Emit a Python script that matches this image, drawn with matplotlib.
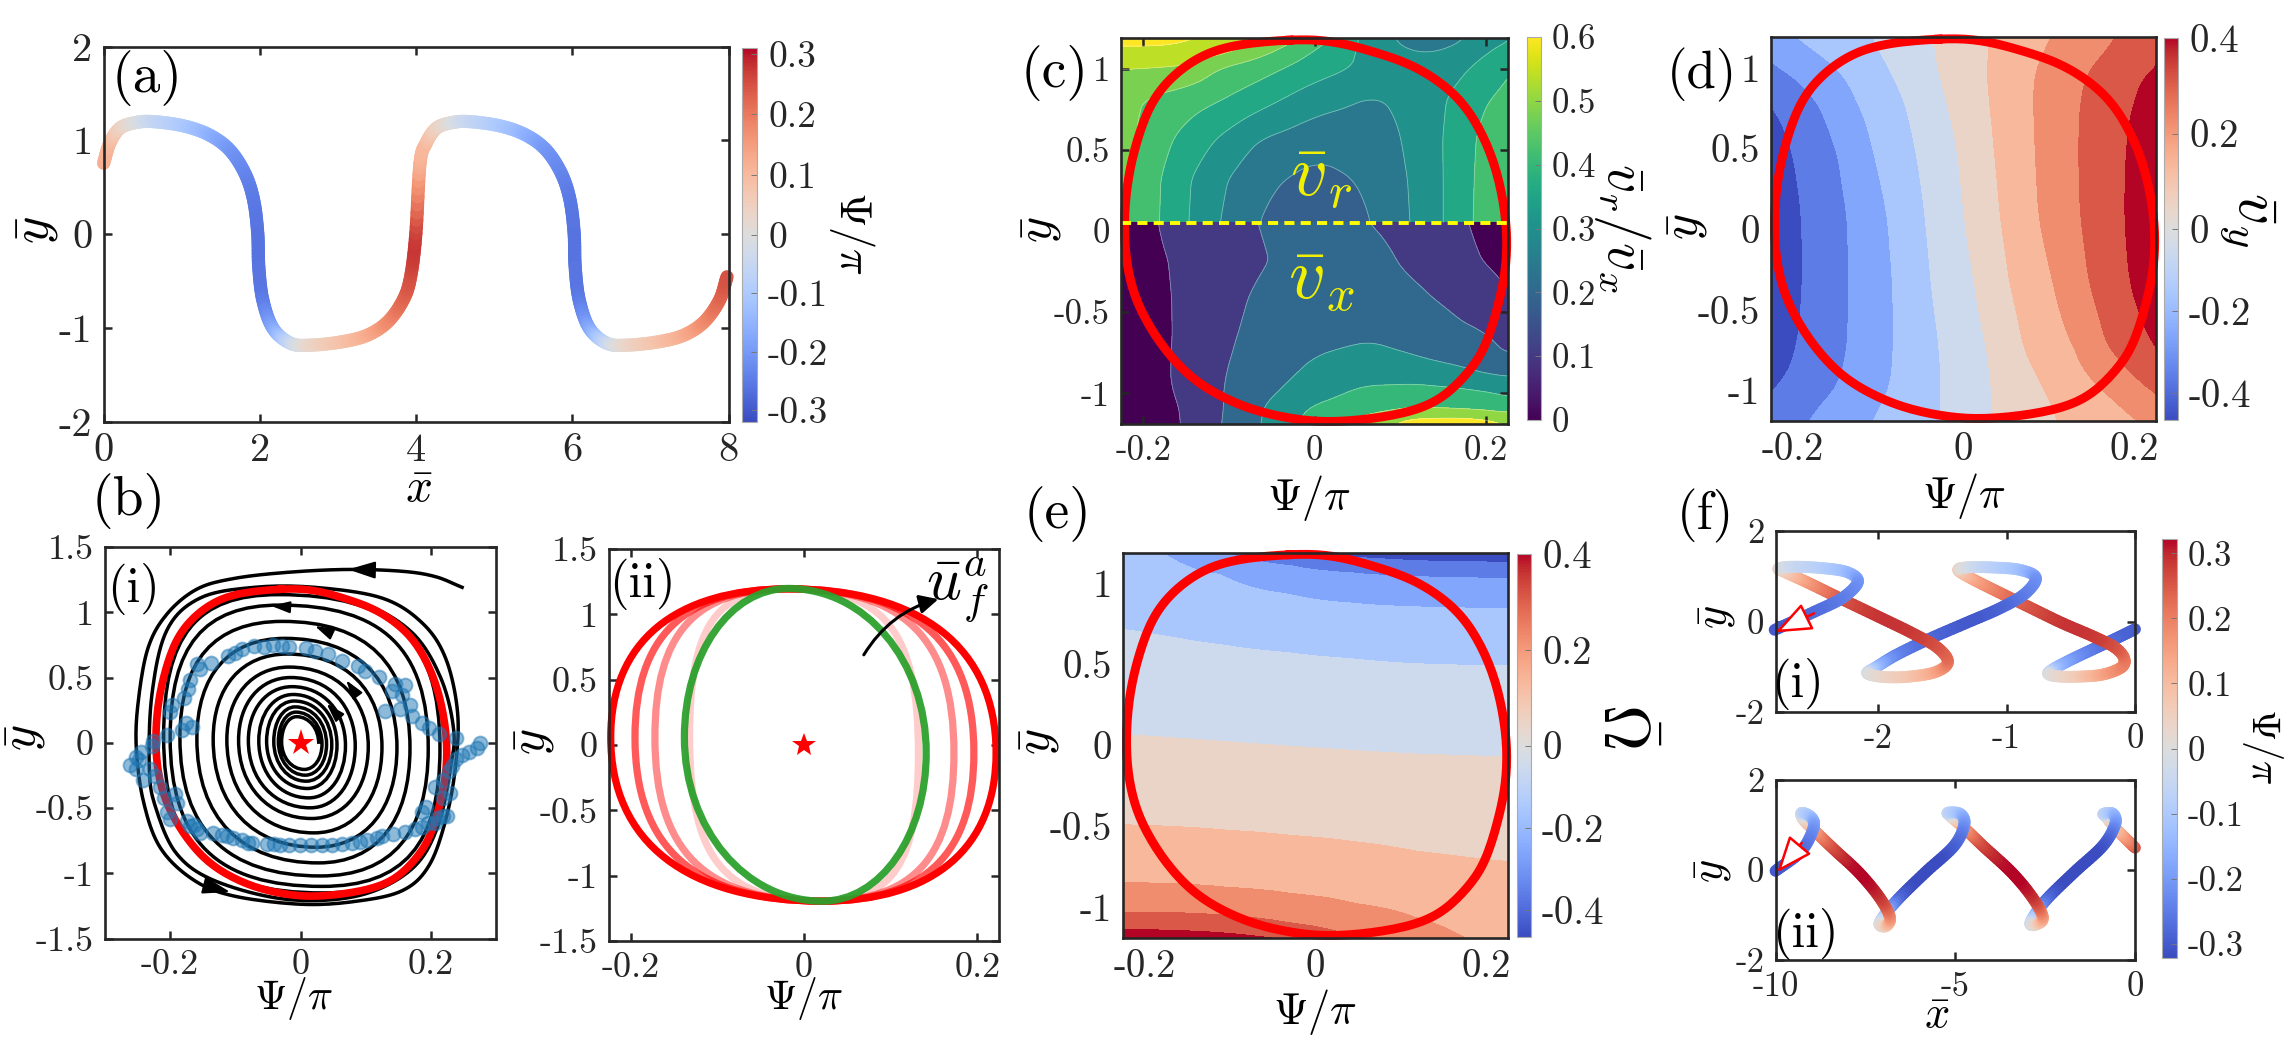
import numpy as np
import matplotlib
matplotlib.use("Agg")
import matplotlib.pyplot as plt
from matplotlib.cm import ScalarMappable
from matplotlib.collections import LineCollection
from matplotlib.colors import Normalize, TwoSlopeNorm
from matplotlib.patches import PathPatch
from matplotlib.path import Path

plt.rcParams["font.family"] = ["cmr10", "DejaVu Serif"]
plt.rcParams["mathtext.fontset"] = "cm"
plt.rcParams["axes.unicode_minus"] = False
plt.rcParams["axes.formatter.use_mathtext"] = True

W, H = 2288, 1038
DARK = "#262626"

# ── (a) wavy path, one wavelength, repeated once ──────────────────────────────
a_x = [0, .078, .209, .405, .634, 1.025, 1.352, 1.613, 1.809, 1.920, 1.973,
       1.986, 2.038, 2.169, 2.397, 2.658, 3.050, 3.377, 3.638, 3.834, 3.93, 3.997]
a_y = [.756, .970, 1.130, 1.190, 1.201, 1.155, 1.059, .899, .649, .365, .009,
       -.347, -.703, -1.005, -1.165, -1.183, -1.148, -1.077, -.934, -.703, -.454, .009]
a_psi = [.12, .10, .05, 0, -.05, -.10, -.15, -.20, -.23, -.25, -.26,
         -.26, -.25, -.18, -.05, .03, .08, .12, .17, .22, .25, .27]
a_wavelength = 4.05

# ── limit cycle (red curve in b, c, d, e) ─────────────────────────────────────
cycle_psi = [-.028, .020, .068, .117, .160, .189, .211, .223, .224, .216, .199, .175, .141,
             .093, .025, -.028, -.082, -.135, -.174, -.203, -.217, -.222, -.219, -.207,
             -.186, -.149, -.101]
cycle_y = [1.178, 1.168, 1.106, 1.013, .859, .664, .397, .088, -.179, -.425, -.713, -.898,
           -1.052, -1.135, -1.176, -1.155, -1.083, -.939, -.734, -.487, -.261, -.014,
           .273, .561, .828, 1.024, 1.137]

# ── (b)(i) spiral extents per turn, blue samples, outer trajectory ────────────
turn_right = [.028, .033, .040, .048, .056, .069, .084, .104, .125, .148, .168, .196, .214]
turn_top = [.20, .235, .275, .32, .37, .43, .50, .58, .68, .80, .93, 1.055, 1.135]
turn_left = [-.029, -.034, -.041, -.052, -.064, -.080, -.095, -.113, -.134, -.159, -.185,
             -.200, -.210]
turn_bottom = [-.204, -.248, -.294, -.350, -.422, -.498, -.58, -.69, -.80, -.92, -1.02, -1.10, -1.15]

outer_psi = [.248, .207, .156, .073, -.020, -.102, -.159, -.205, -.234, -.249, -.252, -.241,
             -.215, -.164, -.102, .001, .084, .156, .197, .223, .238, .241, .223, .187, .125,
             .022, -.071, -.154, -.205, -.228, -.232, -.222, -.19, -.13, -.02, .09, .17, .21,
             .23, .235, .215, .17, .09, -.02]
outer_y = [1.191, 1.273, 1.314, 1.328, 1.306, 1.259, 1.177, .986, .726, .316, -.040, -.450,
           -.805, -1.051, -1.174, -1.237, -1.215, -1.133, -.942, -.587, -.176, .234, .644,
           .917, 1.109, 1.191, 1.191, 1.109, .863, .37, -.2, -.5, -.85, -1.06, -1.2, -1.17,
           -.97, -.65, -.2, .1, .5, .85, 1.08, 1.19]

sample_psi = [-.262, -.252, -.244, -.248, -.228, -.226, -.205, -.182, -.166, -.176, -.200, -.197,
              -.179, -.172, -.169, -.154, -.159, -.138, -.112, -.100, -.090, -.071, -.056, -.042,
              -.028, -.018, .009, .022, .042, .063, .089, .099, .120, .145, .161, .140, .156,
              .130, .153, .168, .171, .187, .197, .212, .238, .276, .271, .259, .248, .238,
              .233, .228, .218, .207, .230, .218, .192, .187, .218, .207, .225, .209, .196, .186,
              .176, .161, .142, .125, .117, .102, .092, .079, .063, .048, .033, .016, -.001,
              -.018, -.031, -.041, -.052, -.075, -.080, -.090, -.103, -.113, -.121, -.134, -.154,
              -.159, -.169, -.164, -.174, -.200, -.205, -.190, -.210, -.193, -.215, -.224, -.241,
              -.231, -.252]
sample_y = [-.171, -.108, -.067, -.135, -.026, .015, .056, .097, .124, .152, .234, .288,
            .343, .412, .480, .562, .603, .611, .666, .685, .718, .740, .734, .753,
            .745, .734, .726, .704, .677, .630, .589, .548, .507, .452, .439, .398, .370,
            .247, .261, .288, .206, .152, .111, .070, .037, .001, -.040, -.067, -.094, -.122,
            -.176, -.217, -.286, -.340, -.381, -.422, -.491, -.532, -.559, -.614, -.557, -.575,
            -.613, -.646, -.664, -.684, -.702, -.715, -.728, -.748, -.758, -.771, -.779, -.781,
            -.786, -.786, -.786, -.786, -.784, -.779, -.774, -.766, -.766, -.748, -.728, -.715,
            -.708, -.689, -.689, -.664, -.638, -.628, -.600, -.587, -.532, -.463, -.422, -.395,
            -.340, -.258, -.286, -.204, -.204]

# ── (b)(ii) family of cycles ──────────────────────────────────────────────────
family_right = [.132, .173, .196, .2216]
family_left = [-.132, -.172, -.195, -.223]
family_alpha = [.2, .45, .65, 1]
family_square = [.74, .70, .68, .64]
green_right, green_left, green_top, green_bottom = .141, -.138, 1.198, -1.195

# ── (c) speed fields: v_r above the dashed line, v_x below ────────────────────
vr_psi = [-.226, -.181, -.147, -.111, -.067, .001, .0686, .112, .151, .185, .226]
vr_rows = [.05, .314, .561, .808, 1.013, 1.106, 1.19]
vr = [[.468, .39, .33, .27, .21, .162, .21, .27, .33, .39, .459],
      [.468, .393, .333, .282, .228, .189, .222, .273, .33, .387, .459],
      [.474, .411, .366, .324, .27, .234, .234, .282, .33, .384, .45],
      [.468, .438, .414, .393, .354, .294, .264, .288, .324, .372, .408],
      [.513, .51, .504, .45, .42, .36, .312, .288, .30, .33, .39],
      [.56, .56, .548, .53, .474, .384, .306, .27, .27, .306, .354],
      [.585, .585, .579, .558, .528, .42, .30, .246, .246, .276, .33]]
vx_psi = [-.226, -.181, -.166, -.106, -.067, .001, .064, .117, .165, .195, .226]
vx_rows = [-1.19, -1.094, -1.001, -.898, -.754, -.631, -.425, -.179, .05]
vx = [[0, .01, .03, .155, .24, .40, .50, .60, .62, .60, .55],
      [0, .02, .035, .15, .235, .365, .42, .45, .44, .43, .415],
      [0, .03, .045, .15, .22, .31, .385, .40, .38, .365, .335],
      [0, .03, .053, .147, .20, .28, .31, .31, .29, .265, .25],
      [0, .03, .052, .14, .18, .245, .27, .245, .21, .185, .145],
      [0, .03, .05, .135, .17, .225, .235, .22, .17, .155, .12],
      [0, .03, .052, .125, .16, .20, .19, .17, .13, .10, .06],
      [0, .04, .055, .12, .14, .19, .18, .13, .085, .05, .02],
      [0, .05, .075, .12, .15, .19, .15, .115, .07, .03, 0]]
vr_levels = [.21, .27, .33, .39, .45, .51, .57]
vx_levels = [.05, .15, .25, .35, .45, .55]

# ── (d) v_y band edges: psi position of each edge on each row ─────────────────
vy_rows = [1.19, 1.008, .801, .491, .078, -.336, -.750, -1.018, -1.19]
vy_edges = [[-.308, -.278, -.229, -.201, -.190, -.189, -.196, -.226, -.259],
            [-.254, -.215, -.171, -.148, -.136, -.135, -.136, -.150, -.189],
            [-.213, -.150, -.125, -.106, -.089, -.083, -.082, -.087, -.113],
            [-.111, -.089, -.069, -.056, -.045, -.038, -.028, -.026, -.028],
            [-.035, -.032, -.020, -.007, .001, .013, .028, .034, .035],
            [.032, .027, .030, .036, .043, .054, .071, .098, .113],
            [.108, .084, .082, .084, .088, .105, .130, .169, .225],
            [.186, .147, .137, .135, .137, .147, .169, .220, .271],
            [.271, .225, .200, .191, .189, .195, .225, .261, .300]]

# ── (e) Omega band edges: y position of each edge on each column ──────────────
om_cols = [-.226, -.166, -.107, -.030, .043, .116, .170, .226]
om_edges = [[1.417, 1.395, 1.351, 1.185, 1.161, 1.139, 1.133, 1.130],
            [1.307, 1.263, 1.190, 1.108, 1.064, 1.042, 1.035, 1.031],
            [1.252, 1.181, 1.053, .932, .877, .855, .848, .844],
            [.722, .667, .619, .572, .535, .504, .495, .491],
            [.067, .045, .023, -.006, -.032, -.054, -.063, -.072],
            [-.491, -.502, -.524, -.557, -.594, -.656, -.689, -.722],
            [-.848, -.855, -.877, -.916, -.976, -1.064, -1.190, -1.318],
            [-1.031, -1.033, -1.049, -1.097, -1.181, -1.318, -1.450, -1.560],
            [-1.137, -1.142, -1.157, -1.203, -1.318, -1.450, -1.560, -1.671]]
band_levels = [-.36, -.27, -.18, -.09, 0, .09, .18, .27, .36]

# ── (f) swimming paths ────────────────────────────────────────────────────────
fi_x = [0, -.154, -.315, -.508, -.637, -.675, -.605, -.444, -.251, -.106, -.084, -.154, -.315,
        -.572, -.830, -1.087, -1.280, -1.376, -1.312, -1.119, -.894, -.772, -.862, -1.055,
        -1.312, -1.601, -1.859, -2.019, -2.084, -1.955, -1.762, -1.553, -1.457, -1.537, -1.730,
        -1.987, -2.277, -2.534, -2.727, -2.775, -2.662, -2.437, -2.244, -2.158, -2.277, -2.502, -2.807]
fi_y = [-.170, -.383, -.596, -.856, -1.053, -1.156, -1.211, -1.219, -1.172, -1.014, -.817, -.580,
        -.343, -.028, .327, .682, .959, 1.132, 1.195, 1.195, 1.140, .959, .604, .288, -.028,
        -.383, -.738, -1.014, -1.148, -1.227, -1.219, -1.116, -.895, -.580, -.264, .091, .485,
        .840, 1.093, 1.172, 1.211, 1.180, 1.093, .880, .525, .209, -.185]
fi_psi = [-.3, -.28, -.26, -.2, -.12, -.02, .02, .06, .13, .18, .2, .24, .27, .28, .25, .2, .13,
          .06, -.01, -.07, -.12, -.2, -.24, -.28, -.3, -.28, -.24, -.14, -.02, .03, .07, .13, .2,
          .24, .27, .28, .25, .17, .07, .02, -.04, -.08, -.13, -.2, -.24, -.27, -.3]
fii_x = [0, -.552, -.782, -.874, -.609, -.552, -.897, -1.701, -2.506, -2.908, -2.736, -2.563,
         -2.851, -3.425, -4.23, -4.747, -5.092, -5.207, -4.862, -4.747, -5.034, -5.839, -6.644,
         -7.103, -6.931, -6.816, -7.103, -7.678, -8.368, -8.885, -9.23, -9.264, -9.0, -8.943,
         -9.287, -10]
fii_y = [.495, .931, 1.168, 1.248, 1.248, 1.010, .535, -.059, -.693, -1.168, -1.208, -1.050,
         -.614, -.059, .535, .931, 1.168, 1.271, 1.248, 1.010, .535, -.059, -.693, -1.168,
         -1.248, -1.050, -.614, -.059, .455, .851, 1.129, 1.271, 1.168, .931, .416, -.020]
fii_psi = [.25, .1, .03, -.05, -.12, -.2, -.3, -.33, -.27, -.05, .03, .14, .27, .31, .27, .17,
           .04, -.05, -.12, -.2, -.28, -.33, -.27, -.03, .05, .16, .27, .31, .27, .17, .05,
           -.05, -.12, -.2, -.27, -.3]

fig = plt.figure(figsize=(W / 100, H / 100), dpi=100)


def add_ax(x0, y0, x1, y1):
    return fig.add_axes([x0 / W, 1 - y1 / H, (x1 - x0) / W, (y1 - y0) / H])


def put(x, y, s, size=34, **kw):
    kw.setdefault("color", "black")
    fig.text(x / W, 1 - y / H, s, ha="center", va="center", fontsize=size, **kw)


def dress(ax, xlim, ylim, xticks, xlabels, yticks, ylabels, tick_len=6, size=26):
    ax.set_xlim(xlim)
    ax.set_ylim(ylim)
    ax.set_xticks(xticks)
    ax.set_xticklabels(xlabels)
    ax.set_yticks(yticks)
    ax.set_yticklabels(ylabels)
    ax.tick_params(direction="in", top=True, right=True, length=tick_len, width=1.8,
                   color=DARK, labelcolor=DARK, labelsize=size, pad=8)
    for s in ax.spines.values():
        s.set_linewidth(1.9)
        s.set_color(DARK)
        s.set_zorder(6)


def colorbar(x0, y0, x1, y1, norm, cmap, ticks, labels, size=27):
    cax = add_ax(x0, y0, x1, y1)
    cb = fig.colorbar(ScalarMappable(norm=norm, cmap=cmap), cax=cax)
    cb.set_ticks(ticks)
    cb.set_ticklabels(labels)
    cb.minorticks_off()
    cb.outline.set_edgecolor("#aaaaaa")
    cb.outline.set_linewidth(0.8)
    cax.tick_params(direction="in", length=4, width=0.7, color="#777777", labelcolor=DARK,
                    labelsize=size, pad=8)


def spline(pts, closed=False, n=10):
    # Catmull-Rom through the read points, only to round off the drawn line
    pts = np.asarray(pts, float)
    if closed:
        p = np.vstack([pts[-1], pts, pts[0], pts[1]])
    else:
        p = np.vstack([2 * pts[0] - pts[1], pts, 2 * pts[-1] - pts[-2]])
    t = np.linspace(0, 1, n, endpoint=False)[:, None]
    out = []
    for i in range(1, len(p) - 2):
        p0, p1, p2, p3 = p[i - 1], p[i], p[i + 1], p[i + 2]
        out.append(0.5 * (2 * p1 + (p2 - p0) * t + (2 * p0 - 5 * p1 + 4 * p2 - p3) * t ** 2
                          + (3 * p1 - p0 - 3 * p2 + p3) * t ** 3))
    out = np.vstack(out + [p[-2]])
    return out


def color_path(ax, x, y, psi, norm, lw):
    d = spline(np.c_[x, y, psi])
    segs = np.stack([d[:-1, :2], d[1:, :2]], axis=1)
    lc = LineCollection(segs, cmap="coolwarm", norm=norm, linewidths=lw, capstyle="round",
                        clip_on=False, zorder=3)
    lc.set_array(0.5 * (d[:-1, 2] + d[1:, 2]))
    ax.add_collection(lc)


def draw_cycle(ax, lw=6.4):
    d = spline(np.c_[cycle_psi, cycle_y], closed=True)[:-1]
    # round off reading noise along the closed curve
    w = 9
    wrapped = np.vstack([d[-w:], d, d[:w]])
    d = np.c_[np.convolve(wrapped[:, 0], np.ones(w) / w, mode="same"),
              np.convolve(wrapped[:, 1], np.ones(w) / w, mode="same")][w:-w]
    d = np.vstack([d, d[0]])
    ax.plot(d[:, 0], d[:, 1], color="#ff0000", lw=lw, clip_on=False, zorder=5)


def loop_path(points, square):
    # quarter arcs as cubic Beziers; points run right, top, left, bottom, right, ...
    verts, codes = [points[0]], [Path.MOVETO]
    for i in range(len(points) - 1):
        p, q = np.array(points[i]), np.array(points[i + 1])
        k = square[i] if np.ndim(square) else square
        if i % 2 == 0:  # leaves a side point vertically, reaches top/bottom horizontally
            c1 = (p[0], p[1] + k * (q[1] - p[1]))
            c2 = (q[0] + k * (p[0] - q[0]), q[1])
        else:
            c1 = (p[0] + k * (q[0] - p[0]), p[1])
            c2 = (q[0], q[1] + k * (p[1] - q[1]))
        verts += [c1, c2, tuple(q)]
        codes += [Path.CURVE4] * 3
    return Path(verts, codes)


def smooth_grid(xs, ys, z, n=400, win=(25, 25)):
    xf = np.linspace(xs[0], xs[-1], n)
    yf = np.linspace(ys[0], ys[-1], n)
    zf = np.array([np.interp(xf, xs, r) for r in z])
    zf = np.array([np.interp(yf, ys, c) for c in zf.T]).T
    for axis, w in enumerate(win):
        if w > 1:
            pad = [(0, 0), (0, 0)]
            pad[axis] = (w // 2, w // 2)
            zp = np.pad(zf, pad, mode="edge")
            zf = np.apply_along_axis(lambda v: np.convolve(v, np.ones(w) / w, mode="valid"), axis, zp)
    return xf, yf, zf


def fill_bands(ax, xs, ys, z, levels, colors):
    ax.contourf(xs, ys, z, levels=levels, colors=colors, extend="both", zorder=1)


coolwarm10 = plt.cm.coolwarm(np.linspace(0, 1, 10))
norm_path = TwoSlopeNorm(0, -.32, .31)
norm_field = TwoSlopeNorm(0, -.465, .40)
PSI_TICKS = [-.2, 0, .2]
PSI_LABELS = ["-0.2", "0", "0.2"]
Y_TICKS = [-1, -.5, 0, .5, 1]
Y_LABELS = ["-1", "-0.5", "0", "0.5", "1"]
Y15_TICKS = [-1.5, -1, -.5, 0, .5, 1, 1.5]
Y15_LABELS = ["-1.5", "-1", "-0.5", "0", "0.5", "1", "1.5"]
Y2_TICKS = [-2, -1, 0, 1, 2]
Y2_LABELS = ["-2", "-1", "0", "1", "2"]
PSI_TEX = r"$\Psi/\pi$"

# ── (a) ───────────────────────────────────────────────────────────────────────
ax = add_ax(103.6, 46.7, 728.6, 421.7)
dress(ax, (0, 8), (-2, 2), [0, 2, 4, 6, 8], ["0", "2", "4", "6", "8"], Y2_TICKS, Y2_LABELS, size=29)
color_path(ax, a_x + [x + a_wavelength for x in a_x[:-1]], a_y + a_y[:-1], a_psi + a_psi[:-1],
           norm_path, 9.5)
colorbar(742, 48, 757, 421.7, norm_path, "coolwarm", [-.3, -.2, -.1, 0, .1, .2, .3],
         ["-0.3", "-0.2", "-0.1", "0", "0.1", "0.2", "0.3"])
put(147, 78, "(a)", 40)
put(38, 230, r"$\bar{y}$", 38, rotation=90)
put(419, 490, r"$\bar{x}$", 34)
put(852, 233, PSI_TEX, 32, rotation=-90)

# ── (b)(i) ────────────────────────────────────────────────────────────────────
ax = add_ax(105, 547, 496, 938.6)
dress(ax, (-.3, .3), (-1.5, 1.5), PSI_TICKS, PSI_LABELS, Y15_TICKS, Y15_LABELS)
pts, squares = [], []
for r, t, l, b in zip(turn_right, turn_top, turn_left, turn_bottom):
    pts += [(r, -.04 * abs(b)), (-.03 * t, t), (l, .04 * t), (.03 * abs(b), b)]
    squares += [.56 + .12 * t ** 2] * 4
pts.append((.223, -.05))
ax.add_patch(PathPatch(loop_path(pts, squares), fc="none", ec="black", lw=2.5, zorder=2))
d = spline(np.c_[outer_psi, outer_y])
ax.plot(d[:, 0], d[:, 1], color="black", lw=2.5, zorder=2)
draw_cycle(ax, lw=5.5)
arrow_tips = [(.073, 1.328), (-.108, -1.143), (-.045, 1.049), (.022, .895), (.070, .48), (.04, .30)]
arrow_tails = [(.109, 1.324), (-.148, -1.092), (-.020, 1.04), (.042, .849), (.078, .425), (.05, .247)]
arrow_sizes = [24, 24, 16, 16, 16, 16]
for tip, tail, size in zip(arrow_tips, arrow_tails, arrow_sizes):
    ax.annotate("", xy=tip, xytext=tail, zorder=4,
                arrowprops=dict(arrowstyle="-|>,head_length=0.7,head_width=0.22", color="black",
                                lw=1.5, mutation_scale=size, shrinkA=0, shrinkB=0))
ax.scatter(sample_psi, sample_y, s=100, facecolor="#1f77b4", edgecolor="#1f77b4", alpha=.5,
           linewidths=1.4, zorder=6, clip_on=False)
ax.plot(0, 0, marker="*", color="#ff0000", ms=20, mew=0, zorder=7)
put(129, 501, "(b)", 40)
put(134, 589, "(i)", 36)
put(25, 738, r"$\bar{y}$", 36, rotation=90)
put(293, 999, PSI_TEX, 30)

# ── (b)(ii) ───────────────────────────────────────────────────────────────────
ax = add_ax(609, 549, 999, 941)
dress(ax, (-.225, .225), (-1.5, 1.5), PSI_TICKS, PSI_LABELS, Y15_TICKS, Y15_LABELS)
for r, l, al, k in zip(family_right, family_left, family_alpha, family_square):
    loop = [(r, -.06), (-.018, 1.195), (l, .06), (.021, -1.195), (r, -.06)]
    ax.add_patch(PathPatch(loop_path(loop, k), fc="none", ec="#ff0000", alpha=al, lw=5.2,
                           zorder=3, clip_on=False))
loop = [(green_right, -.06), (-.018, green_top), (green_left, .06), (.021, green_bottom),
        (green_right, -.06)]
ax.add_patch(PathPatch(loop_path(loop, .56), fc="none", ec="#2ca02c", alpha=.95, lw=5.2, zorder=4))
ax.plot(0, 0, marker="*", color="#ff0000", ms=18, mew=0, zorder=7)
ax.annotate("", xy=(.155, 1.116), xytext=(.069, .69), zorder=6,
            arrowprops=dict(arrowstyle="-|>", color="black", lw=2.2, mutation_scale=28,
                            shrinkA=0, shrinkB=0, connectionstyle="arc3,rad=-0.2"))
put(642, 584, "(ii)", 36)
put(958, 590, r"$\bar{u}_f^a$", 44)
put(534, 742, r"$\bar{y}$", 36, rotation=90)
put(803, 999, PSI_TEX, 30)

# ── (c) ───────────────────────────────────────────────────────────────────────
ax = add_ax(1121, 38, 1508, 424)
dress(ax, (-.226, .226), (-1.19, 1.19), PSI_TICKS, PSI_LABELS, Y_TICKS, Y_LABELS, size=25)
xg, yg, zg = smooth_grid(vr_psi, vr_rows, vr, win=(35, 35))
fill_bands(ax, xg, yg, zg, vr_levels, plt.cm.viridis(np.linspace(.3, 1, 8)))
ax.contour(xg, yg, zg, levels=vr_levels, colors="white", linewidths=.6, alpha=.4, zorder=2)
xg, yg, zg = smooth_grid(vx_psi, vx_rows, vx, win=(25, 25))
fill_bands(ax, xg, yg, zg, vx_levels, plt.cm.viridis(np.linspace(0, 1, 7)))
ax.contour(xg, yg, zg, levels=vx_levels, colors="white", linewidths=.6, alpha=.4, zorder=2)
ax.plot([-.226, .226], [.05, .05], color="#ffff00", lw=2.8, ls=(0, (2.6, 1.6)), zorder=6,
        clip_on=False)
draw_cycle(ax)
colorbar(1527, 37, 1541, 420, Normalize(0, .6), "viridis", [0, .1, .2, .3, .4, .5, .6],
         ["0", "0.1", "0.2", "0.3", "0.4", "0.5", "0.6"], size=25)
put(1055, 73, "(c)", 40)
put(1041, 230, r"$\bar{y}$", 36, rotation=90)
put(1309, 498, PSI_TEX, 32)
put(1321, 180, r"$\bar{v}_r$", 52, color="#f0f000", zorder=8)
put(1321, 283, r"$\bar{v}_x$", 52, color="#f0f000", zorder=8)
put(1622, 228, r"$\bar{v}_r/\bar{v}_x$", 40, rotation=-90)

# ── (d) ───────────────────────────────────────────────────────────────────────
ax = add_ax(1771, 37, 2156, 421)
dress(ax, (-.226, .226), (-1.19, 1.19), PSI_TICKS, PSI_LABELS, Y_TICKS, Y_LABELS, tick_len=0, size=28)
edges = np.array(vy_edges).T
psi_fine = np.linspace(-.34, .34, 500)
vy_grid = [np.interp(psi_fine, [-1] + list(row) + [1], [-2] + band_levels + [2]) for row in edges]
order = np.argsort(vy_rows)
xg, yg, zg = smooth_grid(psi_fine, np.array(vy_rows)[order], np.array(vy_grid)[order], n=500, win=(61, 1))
fill_bands(ax, xg, yg, zg, band_levels, coolwarm10)
draw_cycle(ax)
colorbar(2164, 38, 2178, 420, norm_field, "coolwarm", [-.4, -.2, 0, .2, .4],
         ["-0.4", "-0.2", "0", "0.2", "0.4"], size=28)
put(1702, 75, "(d)", 38)
put(1687, 227, r"$\bar{y}$", 36, rotation=90)
put(1964, 496, PSI_TEX, 32)
put(2247, 220, r"$\bar{v}_y$", 44, rotation=-90)

# ── (e) ───────────────────────────────────────────────────────────────────────
ax = add_ax(1123, 552.5, 1508, 938)
dress(ax, (-.226, .226), (-1.19, 1.19), PSI_TICKS, PSI_LABELS, Y_TICKS, Y_LABELS, tick_len=0, size=28)
edges = np.array(om_edges).T
y_fine = np.linspace(-1.8, 1.8, 500)
om_grid = [np.interp(y_fine, [-3] + list(col[::-1]) + [3], [2] + band_levels[::-1] + [-2]) for col in edges]
xg, yg, zg = smooth_grid(om_cols, y_fine, np.array(om_grid).T, n=500, win=(1, 61))
fill_bands(ax, xg, yg, zg, band_levels, coolwarm10)
draw_cycle(ax)
colorbar(1517, 554, 1531, 937, norm_field, "coolwarm", [-.4, -.2, 0, .2, .4],
         ["-0.4", "-0.2", "0", "0.2", "0.4"], size=28)
put(1058, 514, "(e)", 40)
put(1039, 742, r"$\bar{y}$", 36, rotation=90)
put(1315, 1012, PSI_TEX, 32)
put(1620, 726, r"$\bar{\Omega}$", 46, rotation=-90)

# ── (f) ───────────────────────────────────────────────────────────────────────
HEAD = "-|>,head_length=0.75,head_width=0.3"
ax = add_ax(1775.5, 531, 2135, 712)
dress(ax, (-2.8, 0), (-2, 2), [-2, -1, 0], ["-2", "-1", "0"], [-2, 0, 2], ["-2", "0", "2"], size=25)
color_path(ax, fi_x, fi_y, fi_psi, norm_path, 8.5)
ax.annotate("", xy=(-2.80, -.24), xytext=(-2.50, .18), zorder=6,
            arrowprops=dict(arrowstyle=HEAD, fc="white", ec="#ff0000", lw=1.8, mutation_scale=30,
                            shrinkA=0, shrinkB=0))
ax = add_ax(1775.5, 780, 2135, 960)
dress(ax, (-10, 0), (-2, 2), [-10, -5, 0], ["-10", "-5", "0"], [-2, 0, 2], ["-2", "0", "2"], size=25)
color_path(ax, fii_x, fii_y, fii_psi, norm_path, 8.5)
ax.annotate("", xy=(-9.95, -.05), xytext=(-9.27, .6), zorder=6,
            arrowprops=dict(arrowstyle=HEAD, fc="white", ec="#ff0000", lw=1.8, mutation_scale=30,
                            shrinkA=0, shrinkB=0))
colorbar(2162, 539, 2177, 958, TwoSlopeNorm(0, -.322, .322), "coolwarm",
         [-.3, -.2, -.1, 0, .1, .2, .3], ["-0.3", "-0.2", "-0.1", "0", "0.1", "0.2", "0.3"], size=25)
put(1705, 516, "(f)", 38)
put(1798, 684, "(i)", 36)
put(1805, 934, "(ii)", 36)
put(1718, 617, r"$\bar{y}$", 32, rotation=90)
put(1714, 871, r"$\bar{y}$", 32, rotation=90)
put(1937, 1017, r"$\bar{x}$", 32)
put(2262, 746, PSI_TEX, 29, rotation=-90)

fig.savefig("out.png", dpi=100)
